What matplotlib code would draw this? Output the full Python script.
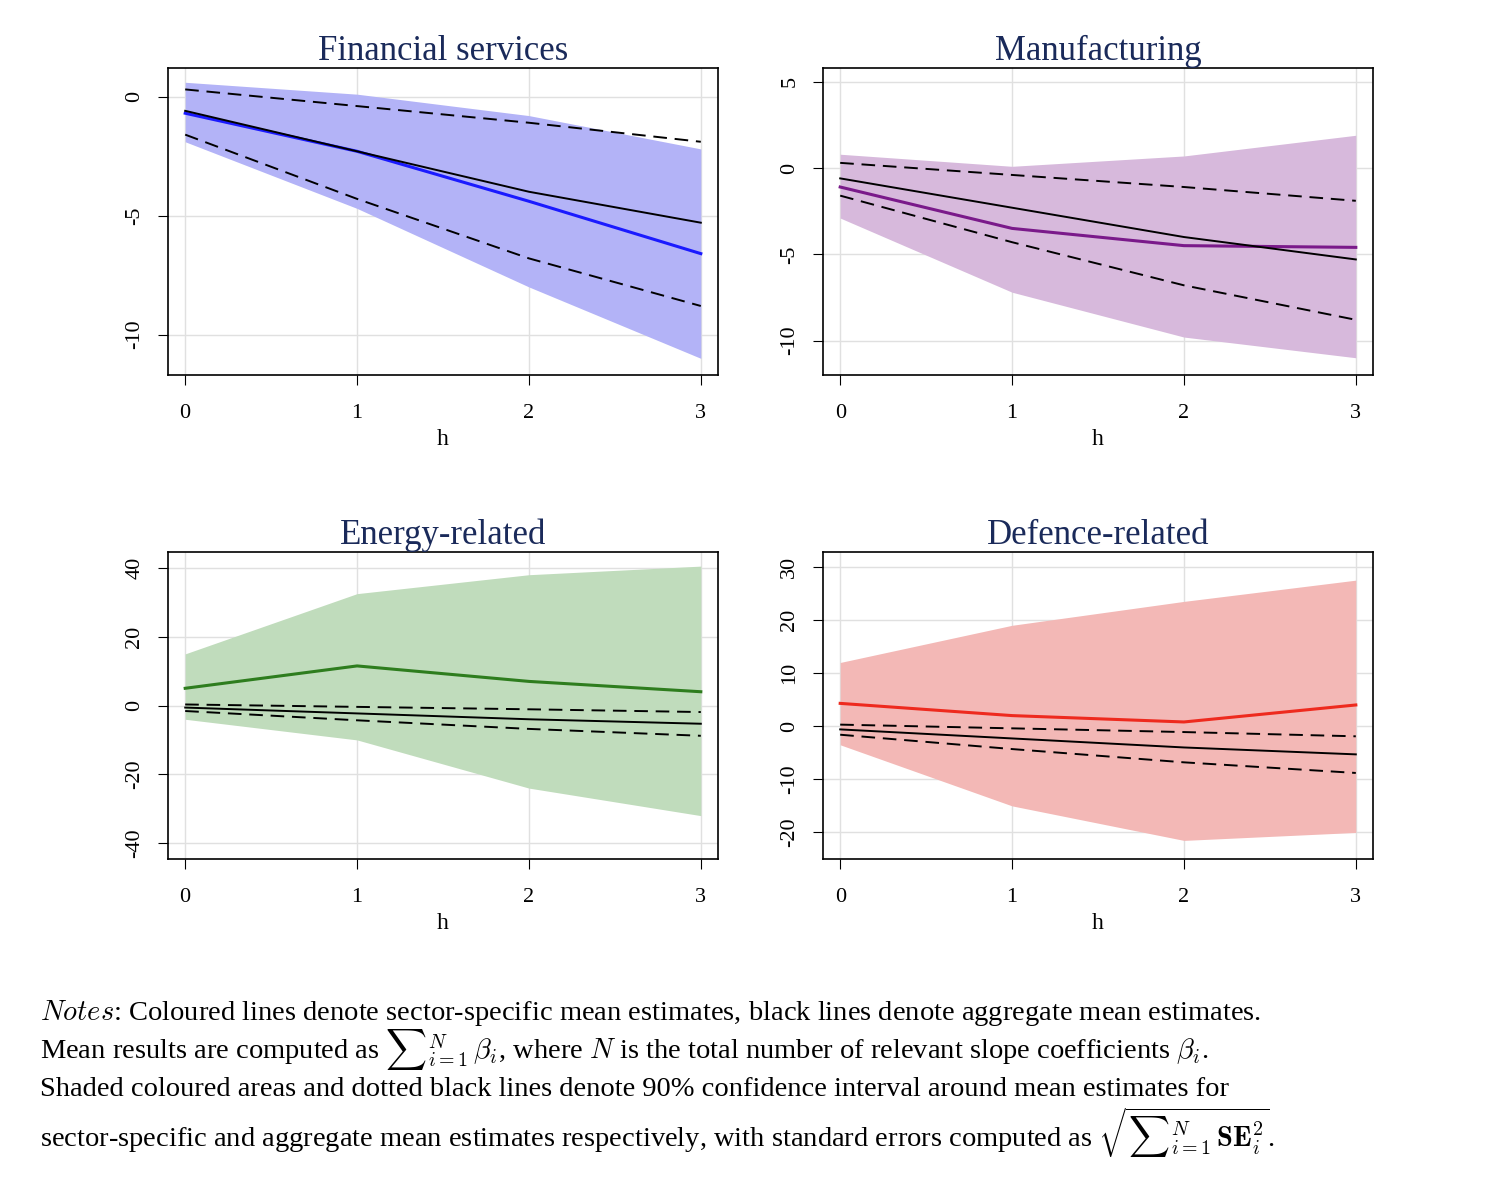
import matplotlib.pyplot as plt

plt.rcParams['font.family'] = ['Liberation Serif', 'DejaVu Serif']
plt.rcParams['mathtext.fontset'] = 'cm'

h = [0, 1, 2, 3]

# aggregate mean estimates and 90% CI (same in every panel)
agg_mean = [-0.6, -2.3, -4.0, -5.3]
agg_hi = [0.3, -0.4, -1.1, -1.9]
agg_lo = [-1.6, -4.3, -6.8, -8.8]

titles = ["Financial services", "Manufacturing", "Energy-related", "Defence-related"]
sec_mean = [[-0.7, -2.3, -4.4, -6.6],
            [-1.1, -3.5, -4.5, -4.6],
            [5.0, 11.5, 7.0, 4.0],
            [4.3, 2.0, 0.8, 4.0]]
sec_hi = [[0.6, 0.1, -0.8, -2.2],
          [0.8, 0.1, 0.7, 1.9],
          [15.0, 32.5, 38.0, 40.5],
          [12.0, 19.0, 23.5, 27.5]]
sec_lo = [[-1.9, -4.7, -8.0, -11.0],
          [-2.9, -7.2, -9.8, -11.0],
          [-4.0, -10.0, -24.0, -32.0],
          [-3.5, -15.0, -21.5, -20.0]]
line_cols = ['#1a1aff', '#7a1a8a', '#2e7d1e', '#ee2a1e']
band_cols = ['#b3b3f7', '#d7b9dc', '#c0dcbc', '#f3b8b6']
yticks = [[0, -5, -10], [5, 0, -5, -10], [40, 20, 0, -20, -40], [30, 20, 10, 0, -10, -20]]
ylims = [(-11.7, 1.2), (-12.0, 5.8), (-44.6, 44.6), (-25.0, 32.8)]

fig = plt.figure(figsize=(14.92, 11.79), dpi=100)
W, H = 1492, 1179
boxes = [(168, 68), (823, 68), (168, 552), (823, 552)]
for k, (x0, y0) in enumerate(boxes):
    ax = fig.add_axes([x0 / W, 1 - (y0 + 307) / H, 550 / W, 307 / H])
    ax.fill_between(h, sec_lo[k], sec_hi[k], color=band_cols[k], lw=0, zorder=1)
    ax.plot(h, sec_mean[k], color=line_cols[k], lw=2.2, zorder=3)
    ax.plot(h, agg_mean, color='black', lw=1.4, zorder=4)
    ax.plot(h, agg_hi, color='black', lw=1.4, ls=(0, (7, 4)), zorder=4)
    ax.plot(h, agg_lo, color='black', lw=1.4, ls=(0, (7, 4)), zorder=4)
    ax.set_xlim(-0.1, 3.1)
    ax.set_ylim(*ylims[k])
    ax.set_xticks(h)
    ax.set_yticks(yticks[k])
    ax.set_yticklabels([str(v) for v in yticks[k]], rotation=90, va='center')
    ax.grid(color='#e0e0e0', lw=1, zorder=0)
    ax.set_axisbelow(True)
    ax.tick_params(labelsize=16, length=7)
    ax.tick_params(axis='x', pad=14)
    ax.tick_params(axis='y', pad=10)
    ax.set_xlabel("h", fontsize=17, labelpad=4)
    ax.set_title(titles[k], fontsize=25, color='#1a2a5a', pad=4)
    for s in ax.spines.values():
        s.set_linewidth(1.2)

notes = [
    r"$\it{Notes}$: Coloured lines denote sector-specific mean estimates, black lines denote aggregate mean estimates.",
    r"Mean results are computed as ${\sum}_{i=1}^{N}\,\beta_i$, where $N$ is the total number of relevant slope coefficients $\beta_i$.",
    r"Shaded coloured areas and dotted black lines denote 90% confidence interval around mean estimates for",
    r"sector-specific and aggregate mean estimates respectively, with standard errors computed as $\sqrt{{\sum}_{i=1}^{N}\,\mathbf{SE}_i^2}$.",
]
for t, y in zip(notes, [1013, 1050, 1090, 1133]):
    fig.text(40 / W, 1 - y / H, t, fontsize=20.5, va='center', ha='left')

fig.savefig("out.png", dpi=100)
